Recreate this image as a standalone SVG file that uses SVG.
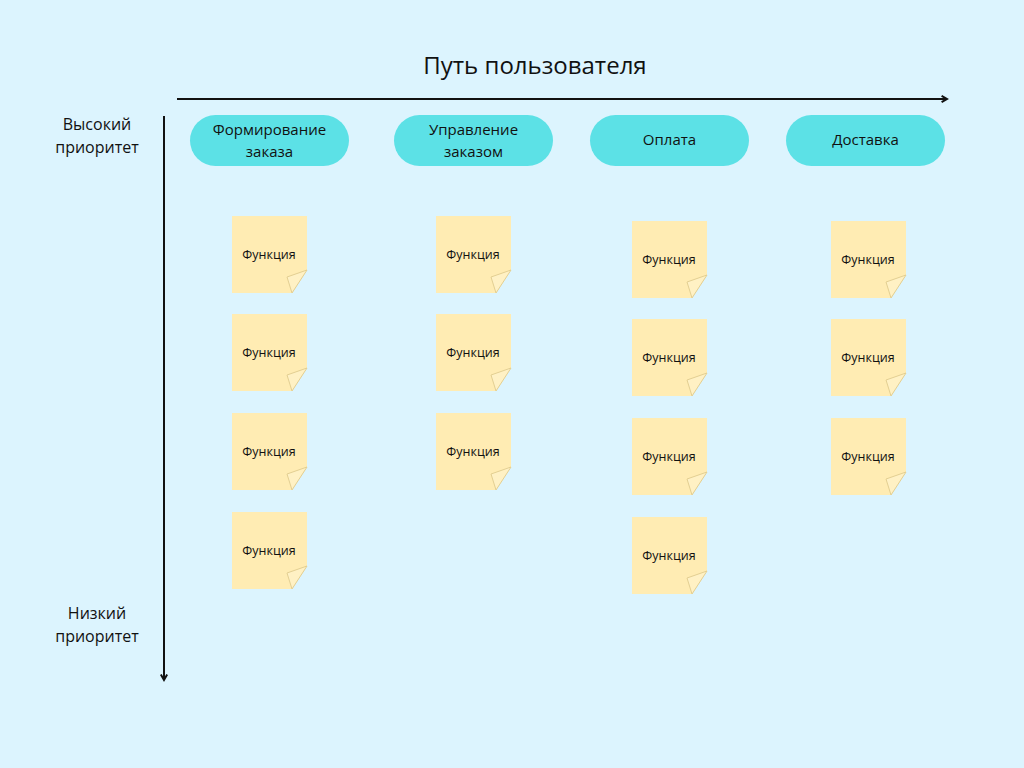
<svg xmlns="http://www.w3.org/2000/svg" xmlns:xlink="http://www.w3.org/1999/xlink" width="1024" height="768" viewBox="0 0 1024 768">
<style>
.t{font-family:"Open Sans","Liberation Sans",sans-serif;fill:#111;text-anchor:middle}
.pill{fill:#5ce1e6}
.nb{fill:#ffecb3}
.nf{fill:#fff1c4;stroke:#e3cf92;stroke-width:1}
.ax{stroke:#111;stroke-width:2;fill:none}
</style>
<defs>
<marker id="ah" viewBox="0 0 10 10" refX="8" refY="5" markerWidth="9" markerHeight="9" orient="auto" markerUnits="userSpaceOnUse">
<path d="M2,1.5 L8,5 L2,8.5" fill="none" stroke="#111" stroke-width="2.2"/>
</marker>
<g id="note">
<polygon class="nb" points="0,0 75,0 75,54 60,77 0,77"/>
<polygon class="nf" points="75,54 55,61 60,77"/>
<text class="t" x="37" y="43" font-size="12.5">Функция</text>
</g>
</defs>
<rect width="1024" height="768" fill="#dcf4fe"/>
<text class="t" x="535" y="74" font-size="24">Путь пользователя</text>
<g id="connectors">
<line class="ax" x1="177" y1="99" x2="947" y2="99" marker-end="url(#ah)"/>
<line class="ax" x1="164" y1="116" x2="164" y2="680" marker-end="url(#ah)"/>
</g>
<g id="label-high"><text class="t" x="97" y="130" font-size="16">Высокий</text><text class="t" x="97" y="153" font-size="16">приоритет</text></g>
<g id="label-low"><text class="t" x="97" y="619" font-size="16">Низкий</text><text class="t" x="97" y="642" font-size="16">приоритет</text></g>
<g id="stage1"><rect class="pill" x="190" y="115" width="159" height="51" rx="25.5"/><text class="t" x="269.5" y="135" font-size="15">Формирование</text><text class="t" x="269.5" y="157" font-size="15">заказа</text></g>
<g id="stage2"><rect class="pill" x="394" y="115" width="159" height="51" rx="25.5"/><text class="t" x="473.5" y="135" font-size="15">Управление</text><text class="t" x="473.5" y="157" font-size="15">заказом</text></g>
<g id="stage3"><rect class="pill" x="590" y="115" width="159" height="51" rx="25.5"/><text class="t" x="669.5" y="145" font-size="15">Оплата</text></g>
<g id="stage4"><rect class="pill" x="786" y="115" width="159" height="51" rx="25.5"/><text class="t" x="865.5" y="145" font-size="15">Доставка</text></g>
<g id="n1-1"><use xlink:href="#note" x="232" y="216"/></g>
<g id="n1-2"><use xlink:href="#note" x="232" y="314"/></g>
<g id="n1-3"><use xlink:href="#note" x="232" y="413"/></g>
<g id="n1-4"><use xlink:href="#note" x="232" y="512"/></g>
<g id="n2-1"><use xlink:href="#note" x="436" y="216"/></g>
<g id="n2-2"><use xlink:href="#note" x="436" y="314"/></g>
<g id="n2-3"><use xlink:href="#note" x="436" y="413"/></g>
<g id="n3-1"><use xlink:href="#note" x="632" y="221"/></g>
<g id="n3-2"><use xlink:href="#note" x="632" y="319"/></g>
<g id="n3-3"><use xlink:href="#note" x="632" y="418"/></g>
<g id="n3-4"><use xlink:href="#note" x="632" y="517"/></g>
<g id="n4-1"><use xlink:href="#note" x="831" y="221"/></g>
<g id="n4-2"><use xlink:href="#note" x="831" y="319"/></g>
<g id="n4-3"><use xlink:href="#note" x="831" y="418"/></g>
</svg>
